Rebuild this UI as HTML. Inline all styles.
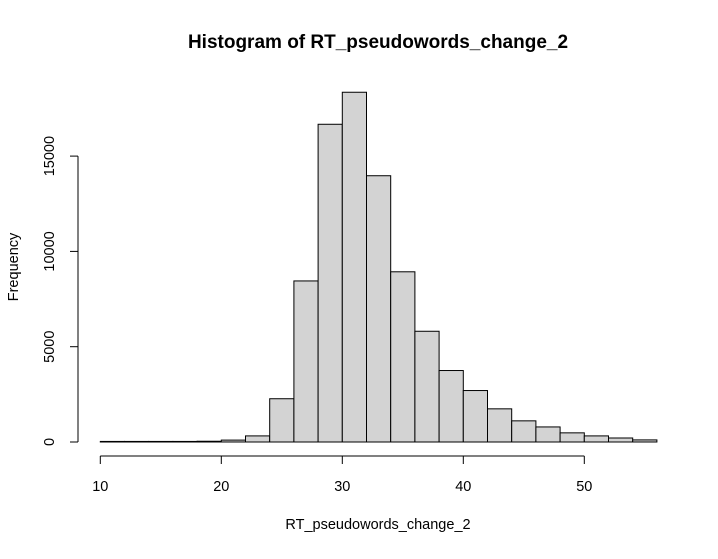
<!DOCTYPE html>
<html><head><meta charset="utf-8"><style>
body{margin:0;background:#fff;}
svg text{font-family:"Liberation Sans",Arial,sans-serif;}
</style></head><body>
<svg id="chart" width="718" height="554" xmlns="http://www.w3.org/2000/svg">
<text x="378" y="48" font-size="19" font-weight="bold" text-anchor="middle">Histogram of RT_pseudowords_change_2</text>
<text x="378" y="529" font-size="14.5" text-anchor="middle">RT_pseudowords_change_2</text>
<text x="18" y="267" font-size="14.5" text-anchor="middle" transform="rotate(-90 18 267)">Frequency</text>
<g id="bars"></g><g id="xaxis"></g><g id="yaxis"></g>
</svg>
<script>
const binStarts=[10,12,14,16,18,20,22,24,26,28,30,32,34,36,38,40,42,44,46,48,50,52,54];
const counts=[30,30,30,30,40,100,320,2270,8450,16670,18350,13970,8930,5810,3750,2700,1740,1110,790,480,320,210,110];
const binWidth=2;
const xTicks=[10,20,30,40,50];
const yTicks=[0,5000,10000,15000];
const xs=v=>100.3+(v-10)*12.1;
const ys=v=>442-v*(95.3/5000);
const NS="http://www.w3.org/2000/svg";
const bars=document.getElementById('bars');
binStarts.forEach((b,i)=>{
 const r=document.createElementNS(NS,'rect');
 r.setAttribute('x',xs(b));r.setAttribute('width',xs(b+binWidth)-xs(b));
 r.setAttribute('y',ys(counts[i]));r.setAttribute('height',ys(0)-ys(counts[i]));
 r.setAttribute('fill','#d3d3d3');r.setAttribute('stroke','#000');r.setAttribute('stroke-width','1');
 
 
 bars.appendChild(r);
});
const xa=document.getElementById('xaxis');
let l=document.createElementNS(NS,'line');
l.setAttribute('x1',xs(xTicks[0]));l.setAttribute('x2',xs(xTicks[xTicks.length-1]));l.setAttribute('y1',456);l.setAttribute('y2',456);l.setAttribute('stroke','#000');


xa.appendChild(l);
xTicks.forEach(t=>{
 const k=document.createElementNS(NS,'line');
 k.setAttribute('x1',xs(t));k.setAttribute('x2',xs(t));k.setAttribute('y1',456);k.setAttribute('y2',464);k.setAttribute('stroke','#000');
 
 
 xa.appendChild(k);
 const tx=document.createElementNS(NS,'text');
 tx.setAttribute('x',xs(t));tx.setAttribute('y',491);tx.setAttribute('font-size','14.5');tx.setAttribute('text-anchor','middle');tx.textContent=t;
 
 
 xa.appendChild(tx);
});
const ya=document.getElementById('yaxis');
l=document.createElementNS(NS,'line');
l.setAttribute('x1',78);l.setAttribute('x2',78);l.setAttribute('y1',ys(yTicks[0]));l.setAttribute('y2',ys(yTicks[yTicks.length-1]));l.setAttribute('stroke','#000');


ya.appendChild(l);
yTicks.forEach(t=>{
 const k=document.createElementNS(NS,'line');
 k.setAttribute('x1',70);k.setAttribute('x2',78);k.setAttribute('y1',ys(t));k.setAttribute('y2',ys(t));k.setAttribute('stroke','#000');
 
 
 ya.appendChild(k);
 const tx=document.createElementNS(NS,'text');
 tx.setAttribute('x',54);tx.setAttribute('y',ys(t));tx.setAttribute('font-size','14.5');tx.setAttribute('text-anchor','middle');
 tx.setAttribute('transform','rotate(-90 54 '+ys(t)+')');tx.textContent=t;
 
 
 ya.appendChild(tx);
});
</script>
</body></html>
